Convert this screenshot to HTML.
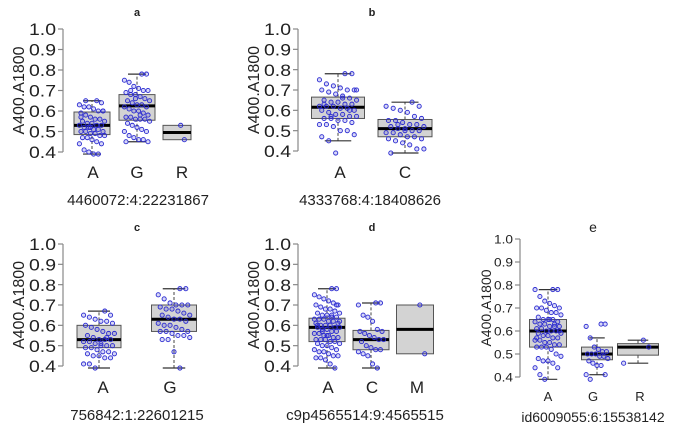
<!DOCTYPE html>
<html><head><meta charset="utf-8"><style>
html,body{margin:0;padding:0;background:#fff;width:685px;height:430px;overflow:hidden}
svg{display:block;font-family:"Liberation Sans",Arial,sans-serif}
</style></head><body>
<svg id="chart" width="685" height="430" viewBox="0 0 685 430"></svg>
<script>
// ---------- data ----------
const ticks = [0.4,0.5,0.6,0.7,0.8,0.9,1.0];
const tickLabels = ["0.4","0.5","0.6","0.7","0.8","0.9","1.0"];
const yTitle = "A400.A1800";

const aCats = ["A","G","R"];
const aStats = [[0.39,0.485,0.53,0.595,0.65],[0.45,0.555,0.625,0.68,0.78],[0.46,0.46,0.495,0.53,0.53]];
const aA = [0.65,0.64,0.63,0.62,0.62,0.61,0.6,0.6,0.59,0.58,0.57,0.56,0.56,0.55,0.55,0.54,0.54,0.53,0.53,0.53,0.52,0.52,0.51,0.51,0.5,0.5,0.5,0.49,0.49,0.48,0.48,0.47,0.47,0.46,0.45,0.44,0.44,0.41,0.4,0.39,0.39,0.6,0.57,0.65,0.52];
const aG = [0.78,0.78,0.75,0.74,0.72,0.71,0.7,0.7,0.69,0.68,0.68,0.67,0.66,0.65,0.65,0.64,0.63,0.63,0.62,0.62,0.61,0.6,0.6,0.59,0.58,0.57,0.57,0.56,0.56,0.56,0.55,0.54,0.53,0.52,0.51,0.5,0.5,0.48,0.47,0.46,0.46,0.45,0.45,0.7,0.66,0.58];
const aR = [0.53,0.46];

const bCats = ["A","C"];
const bStats = [[0.45,0.56,0.615,0.665,0.78],[0.39,0.47,0.51,0.555,0.64]];
const bA = [0.78,0.78,0.75,0.73,0.72,0.71,0.7,0.7,0.7,0.69,0.68,0.67,0.66,0.65,0.65,0.64,0.64,0.63,0.63,0.62,0.62,0.62,0.61,0.61,0.6,0.6,0.59,0.58,0.58,0.57,0.57,0.56,0.56,0.55,0.55,0.54,0.53,0.53,0.52,0.5,0.5,0.48,0.47,0.45,0.39,0.66,0.6,0.7,0.63,0.57];
const bC = [0.64,0.62,0.62,0.61,0.6,0.59,0.57,0.56,0.55,0.55,0.54,0.53,0.53,0.52,0.52,0.51,0.51,0.5,0.5,0.49,0.49,0.48,0.47,0.47,0.46,0.46,0.45,0.44,0.43,0.41,0.41,0.39,0.53,0.5];

const cCats = ["A","G"];
const cStats = [[0.39,0.49,0.53,0.60,0.67],[0.39,0.57,0.63,0.70,0.78]];
const cA = [0.67,0.65,0.65,0.64,0.63,0.62,0.62,0.61,0.6,0.59,0.58,0.57,0.56,0.56,0.55,0.54,0.53,0.53,0.53,0.52,0.52,0.51,0.5,0.5,0.5,0.49,0.49,0.48,0.47,0.47,0.46,0.46,0.45,0.45,0.44,0.44,0.41,0.41,0.39,0.51,0.54];
const cG = [0.78,0.78,0.75,0.73,0.71,0.7,0.7,0.7,0.69,0.68,0.68,0.67,0.66,0.65,0.65,0.64,0.63,0.63,0.62,0.61,0.6,0.6,0.59,0.58,0.57,0.57,0.57,0.56,0.55,0.55,0.54,0.53,0.53,0.47,0.39];

const dCats = ["A","C","M"];
const dStats = [[0.39,0.52,0.59,0.635,0.78],[0.39,0.48,0.53,0.575,0.71],[0.46,0.46,0.58,0.70,0.70]];
const dA = [0.78,0.78,0.75,0.74,0.73,0.72,0.71,0.7,0.7,0.69,0.68,0.68,0.67,0.66,0.66,0.65,0.65,0.64,0.64,0.63,0.63,0.63,0.62,0.62,0.61,0.61,0.6,0.6,0.6,0.59,0.59,0.59,0.58,0.58,0.57,0.57,0.56,0.56,0.55,0.55,0.54,0.54,0.53,0.53,0.53,0.52,0.52,0.51,0.51,0.5,0.5,0.49,0.48,0.48,0.47,0.47,0.46,0.45,0.45,0.44,0.44,0.43,0.41,0.39,0.62,0.6,0.57,0.55,0.65,0.7];
const dC = [0.71,0.71,0.7,0.65,0.64,0.62,0.58,0.57,0.57,0.56,0.55,0.54,0.53,0.53,0.52,0.5,0.49,0.48,0.48,0.47,0.46,0.45,0.41,0.39];
const dM = [0.70,0.46];

const eCats = ["A","G","R"];
const eStats = [[0.39,0.53,0.60,0.65,0.78],[0.41,0.475,0.50,0.53,0.57],[0.46,0.495,0.53,0.545,0.56]];
const eA = [0.78,0.78,0.78,0.75,0.73,0.72,0.71,0.7,0.7,0.7,0.69,0.68,0.68,0.67,0.66,0.65,0.65,0.65,0.64,0.64,0.63,0.63,0.62,0.62,0.62,0.61,0.61,0.6,0.6,0.6,0.59,0.59,0.58,0.58,0.57,0.57,0.56,0.56,0.55,0.55,0.54,0.54,0.53,0.53,0.53,0.52,0.5,0.49,0.48,0.47,0.47,0.46,0.44,0.44,0.41,0.39,0.65,0.63,0.6,0.57];
const eG = [0.63,0.63,0.62,0.57,0.53,0.52,0.51,0.51,0.5,0.5,0.5,0.49,0.49,0.48,0.47,0.46,0.45,0.45,0.41,0.41,0.39];
const eR = [0.56,0.53,0.46];

// ---------- layout ----------
const NS = "http://www.w3.org/2000/svg";
const svg = document.getElementById("chart");
function mk(tag, attrs, parent){
  const e = document.createElementNS(NS, tag);
  for (const k in attrs) e.setAttribute(k, attrs[k]);
  (parent||svg).appendChild(e);
  return e;
}
function jit(i){ return (((i*37+11)%17)/16) - 0.5; }

function panel(p){
  const g = mk("g", {});
  
  
  const y = v => p.y0 + (v - 0.4) / 0.6 * (p.y1 - p.y0);
  const ax = mk("line", {x1:p.ax, x2:p.ax, y1:y(0.4), y2:y(1.0), stroke:"#888", "stroke-width":1.2}, g);
  
  
  ticks.forEach((t, i) => {
    const tl = mk("line", {x1:p.ax-5, x2:p.ax, y1:y(t), y2:y(t), stroke:"#888", "stroke-width":1.2}, g);
    
    
    const tx = mk("text", {x:p.ax-7, y:y(t)+p.tfs*0.36, "text-anchor":"end", "font-size":p.tfs, fill:"#222", textLength:p.tlen, lengthAdjust:"spacingAndGlyphs"}, g);
    tx.textContent = tickLabels[i];
    
    
  });
  const ym = (y(0.4) + y(1.0)) / 2;
  const yt = mk("text", {x:p.ytx, y:ym, "text-anchor":"middle", "font-size":p.yfs, fill:"#222", transform:"rotate(-90 "+p.ytx+" "+ym+")"}, g);
  yt.textContent = yTitle;
  
  
  const ti = mk("text", {x:p.tx, y:p.ty, "text-anchor":"middle", "font-size":p.tifs, "font-weight":p.tiw, fill:"#222"}, g);
  ti.textContent = p.id;
  
  
  const st = mk("text", {x:p.sx, y:p.sy, "text-anchor":"middle", "font-size":p.sfs, fill:"#222"}, g);
  st.textContent = p.sub;
  
  
  p.cats.forEach((c, k) => {
    const cx = p.cx[k], w = p.bw[k], s = p.stats[k];
    const bg = mk("g", {}, g);
    
    
    if (s[1] > s[0]) mk("line", {x1:cx, x2:cx, y1:y(s[0]), y2:y(s[1]), stroke:"#444", "stroke-dasharray":"3,2"}, bg);
    if (s[4] > s[3]) mk("line", {x1:cx, x2:cx, y1:y(s[3]), y2:y(s[4]), stroke:"#444", "stroke-dasharray":"3,2"}, bg);
    if (s[1] > s[0]) mk("line", {x1:cx-w/4, x2:cx+w/4, y1:y(s[0]), y2:y(s[0]), stroke:"#333", "stroke-width":1.2}, bg);
    if (s[4] > s[3]) mk("line", {x1:cx-w/4, x2:cx+w/4, y1:y(s[4]), y2:y(s[4]), stroke:"#333", "stroke-width":1.2}, bg);
    mk("rect", {x:cx-w/2, y:y(s[3]), width:w, height:y(s[1])-y(s[3]), fill:"#d3d3d3", stroke:"#555", "stroke-width":1}, bg);
    mk("line", {x1:cx-w/2, x2:cx+w/2, y1:y(s[2]), y2:y(s[2]), stroke:"#000", "stroke-width":3}, bg);
    const pts = p.pts[k];
    pts.forEach((v, i) => {
      const pt = mk("circle", {cx:cx + jit(i)*w*0.7, cy:y(v), r:2.1, fill:"rgba(60,60,220,0.2)", stroke:"#2a2ad0", "stroke-width":0.9}, bg);
      
      
    });
    const xl = mk("text", {x:p.lx[k], y:p.ly, "text-anchor":"middle", "font-size":p.lfs, fill:"#222"}, g);
    xl.textContent = c;
    
    
  });
}

const big = {tfs:17, tlen:27, yfs:16, tifs:11, tiw:"bold", sfs:15, lfs:17};
panel(Object.assign({}, big, {id:"a", sub:"4460072:4:22231867", ax:63, y0:152, y1:29, ytx:24, tx:137, ty:16, sx:138, sy:205, ly:178,
  cats:aCats, stats:aStats, pts:[aA,aG,aR], cx:[92,137,177], bw:[36,36,28], lx:[93,137,182]}));
panel(Object.assign({}, big, {id:"b", sub:"4333768:4:18408626", ax:298, y0:151, y1:29, ytx:259, tx:372, ty:16, sx:370, sy:205, ly:178,
  cats:bCats, stats:bStats, pts:[bA,bC], cx:[338,405], bw:[53,54], lx:[340,405]}));
panel(Object.assign({}, big, {id:"c", sub:"756842:1:22601215", ax:63, y0:366, y1:244, ytx:24, tx:137, ty:231, sx:137, sy:420, ly:393,
  cats:cCats, stats:cStats, pts:[cA,cG], cx:[99,174], bw:[44,45], lx:[103,170]}));
panel(Object.assign({}, big, {id:"d", sub:"c9p4565514:9:4565515", ax:298, y0:366, y1:244, ytx:259, tx:372, ty:231, sx:365, sy:420, ly:393,
  cats:dCats, stats:dStats, pts:[dA,dC,dM], cx:[327,371,415], bw:[36,36,37], lx:[328,372,417]}));
panel({id:"e", sub:"id6009055:6:15538142", tfs:12, tlen:19, yfs:14, tifs:14, tiw:"normal", sfs:14, lfs:13,
  ax:520, y0:377, y1:239, ytx:491, tx:593, ty:232, sx:593, sy:422, ly:401,
  cats:eCats, stats:eStats, pts:[eA,eG,eR], cx:[548,597,638], bw:[37,31,41], lx:[548,593,640]});
</script>
</body></html>
